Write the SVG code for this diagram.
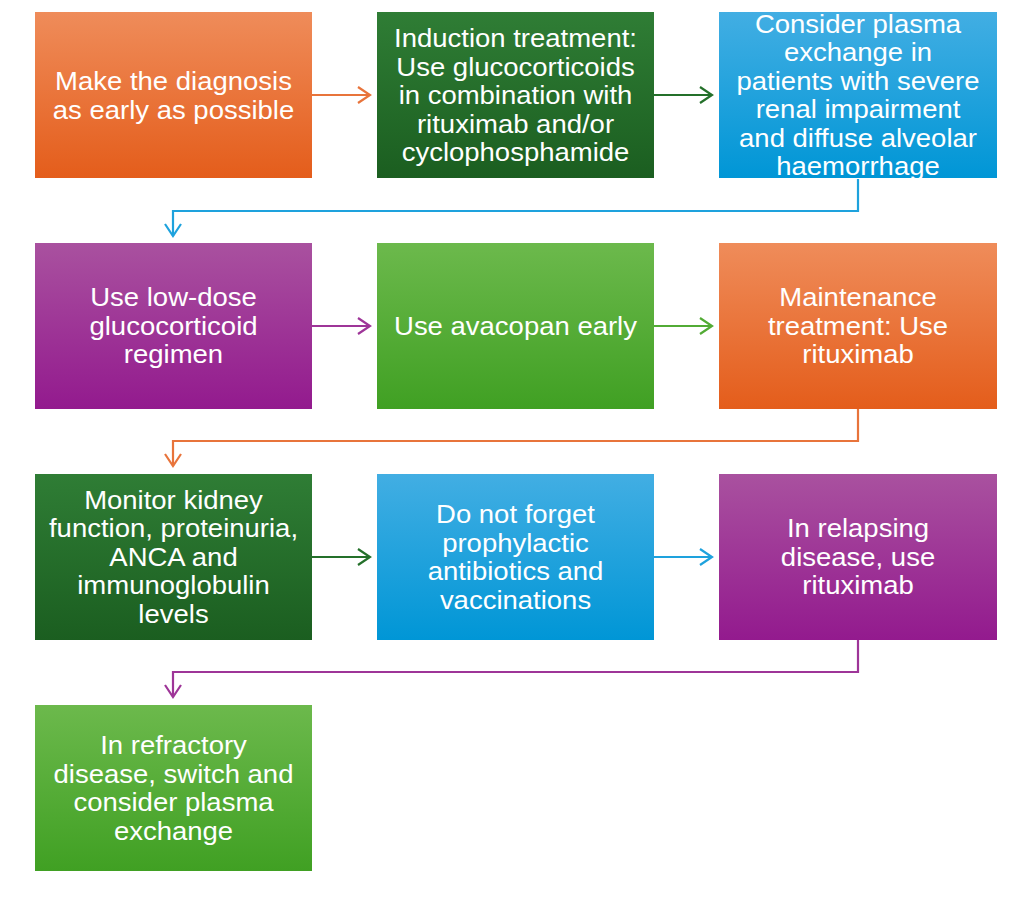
<svg xmlns="http://www.w3.org/2000/svg" width="1024" height="900" viewBox="0 0 1024 900">
<style>
.t{font-family:"Liberation Sans",Arial,sans-serif;font-size:25px;fill:#fff;text-anchor:middle}
.c{fill:none;stroke-width:2.2}
</style>
<defs>
<linearGradient id="gO" x1="0" y1="0" x2="0" y2="1"><stop offset="0" stop-color="#EF8C5A"/><stop offset="1" stop-color="#E45D1B"/></linearGradient>
<linearGradient id="gD" x1="0" y1="0" x2="0" y2="1"><stop offset="0" stop-color="#2F7D35"/><stop offset="1" stop-color="#1B5E20"/></linearGradient>
<linearGradient id="gB" x1="0" y1="0" x2="0" y2="1"><stop offset="0" stop-color="#42AEE3"/><stop offset="1" stop-color="#0096D6"/></linearGradient>
<linearGradient id="gP" x1="0" y1="0" x2="0" y2="1"><stop offset="0" stop-color="#A9519F"/><stop offset="1" stop-color="#931A8E"/></linearGradient>
<linearGradient id="gL" x1="0" y1="0" x2="0" y2="1"><stop offset="0" stop-color="#6CB94C"/><stop offset="1" stop-color="#40A023"/></linearGradient>
<marker id="mO" markerUnits="userSpaceOnUse" markerWidth="20" markerHeight="20" refX="13" refY="9" orient="auto"><path d="M1,1 L13,9 L1,17" fill="none" stroke="#E8743B" stroke-width="2.2"/></marker>
<marker id="mD" markerUnits="userSpaceOnUse" markerWidth="20" markerHeight="20" refX="13" refY="9" orient="auto"><path d="M1,1 L13,9 L1,17" fill="none" stroke="#24702A" stroke-width="2.2"/></marker>
<marker id="mB" markerUnits="userSpaceOnUse" markerWidth="20" markerHeight="20" refX="13" refY="9" orient="auto"><path d="M1,1 L13,9 L1,17" fill="none" stroke="#1EA2DD" stroke-width="2.2"/></marker>
<marker id="mP" markerUnits="userSpaceOnUse" markerWidth="20" markerHeight="20" refX="13" refY="9" orient="auto"><path d="M1,1 L13,9 L1,17" fill="none" stroke="#9E3598" stroke-width="2.2"/></marker>
<marker id="mL" markerUnits="userSpaceOnUse" markerWidth="20" markerHeight="20" refX="13" refY="9" orient="auto"><path d="M1,1 L13,9 L1,17" fill="none" stroke="#52AB35" stroke-width="2.2"/></marker>
</defs>
<rect width="1024" height="900" fill="#fff"/>

<g id="connectors">
<path class="c" stroke="#E8743B" marker-end="url(#mO)" d="M312,95 H370"/>
<path class="c" stroke="#24702A" marker-end="url(#mD)" d="M654,95 H712"/>
<path class="c" stroke="#1EA2DD" marker-end="url(#mB)" d="M858,179 V211 H173 V236"/>
<path class="c" stroke="#9E3598" marker-end="url(#mP)" d="M312,326 H370"/>
<path class="c" stroke="#52AB35" marker-end="url(#mL)" d="M654,326 H712"/>
<path class="c" stroke="#E8743B" marker-end="url(#mO)" d="M858,409 V441 H173 V466"/>
<path class="c" stroke="#24702A" marker-end="url(#mD)" d="M312,557 H370"/>
<path class="c" stroke="#1EA2DD" marker-end="url(#mB)" d="M654,557 H712"/>
<path class="c" stroke="#9E3598" marker-end="url(#mP)" d="M858,640 V672 H173 V697"/>
</g>

<g id="n1"><rect x="35" y="12" width="277" height="166" fill="url(#gO)"/>
<g class="t" transform="matrix(1.1 0 0 1 173.5 0)"><text x="0" y="90">Make the diagnosis</text><text x="0" y="119">as early as possible</text></g></g>

<g id="n2"><rect x="377" y="12" width="277" height="166" fill="url(#gD)"/>
<g class="t" transform="matrix(1.1 0 0 1 515.5 0)"><text x="0" y="47">Induction treatment:</text><text x="0" y="76">Use glucocorticoids</text><text x="0" y="104">in combination with</text><text x="0" y="133">rituximab and/or</text><text x="0" y="161">cyclophosphamide</text></g></g>

<g id="n3"><rect x="719" y="12" width="278" height="166" fill="url(#gB)"/>
<g class="t" transform="matrix(1.1 0 0 1 858 0)"><text x="0" y="33">Consider plasma</text><text x="0" y="61">exchange in</text><text x="0" y="90">patients with severe</text><text x="0" y="118">renal impairment</text><text x="0" y="147">and diffuse alveolar</text><text x="0" y="175">haemorrhage</text></g></g>

<g id="n4"><rect x="35" y="243" width="277" height="166" fill="url(#gP)"/>
<g class="t" transform="matrix(1.1 0 0 1 173.5 0)"><text x="0" y="306">Use low-dose</text><text x="0" y="335">glucocorticoid</text><text x="0" y="363">regimen</text></g></g>

<g id="n5"><rect x="377" y="243" width="277" height="166" fill="url(#gL)"/>
<g class="t" transform="matrix(1.1 0 0 1 515.5 0)"><text x="0" y="335">Use avacopan early</text></g></g>

<g id="n6"><rect x="719" y="243" width="278" height="166" fill="url(#gO)"/>
<g class="t" transform="matrix(1.1 0 0 1 858 0)"><text x="0" y="306">Maintenance</text><text x="0" y="335">treatment: Use</text><text x="0" y="363">rituximab</text></g></g>

<g id="n7"><rect x="35" y="474" width="277" height="166" fill="url(#gD)"/>
<g class="t" transform="matrix(1.1 0 0 1 173.5 0)"><text x="0" y="509">Monitor kidney</text><text x="0" y="537">function, proteinuria,</text><text x="0" y="566">ANCA and</text><text x="0" y="594">immunoglobulin</text><text x="0" y="623">levels</text></g></g>

<g id="n8"><rect x="377" y="474" width="277" height="166" fill="url(#gB)"/>
<g class="t" transform="matrix(1.1 0 0 1 515.5 0)"><text x="0" y="523">Do not forget</text><text x="0" y="552">prophylactic</text><text x="0" y="580">antibiotics and</text><text x="0" y="609">vaccinations</text></g></g>

<g id="n9"><rect x="719" y="474" width="278" height="166" fill="url(#gP)"/>
<g class="t" transform="matrix(1.1 0 0 1 858 0)"><text x="0" y="537">In relapsing</text><text x="0" y="566">disease, use</text><text x="0" y="594">rituximab</text></g></g>

<g id="n10"><rect x="35" y="705" width="277" height="166" fill="url(#gL)"/>
<g class="t" transform="matrix(1.1 0 0 1 173.5 0)"><text x="0" y="754">In refractory</text><text x="0" y="783">disease, switch and</text><text x="0" y="811">consider plasma</text><text x="0" y="840">exchange</text></g></g>
</svg>
